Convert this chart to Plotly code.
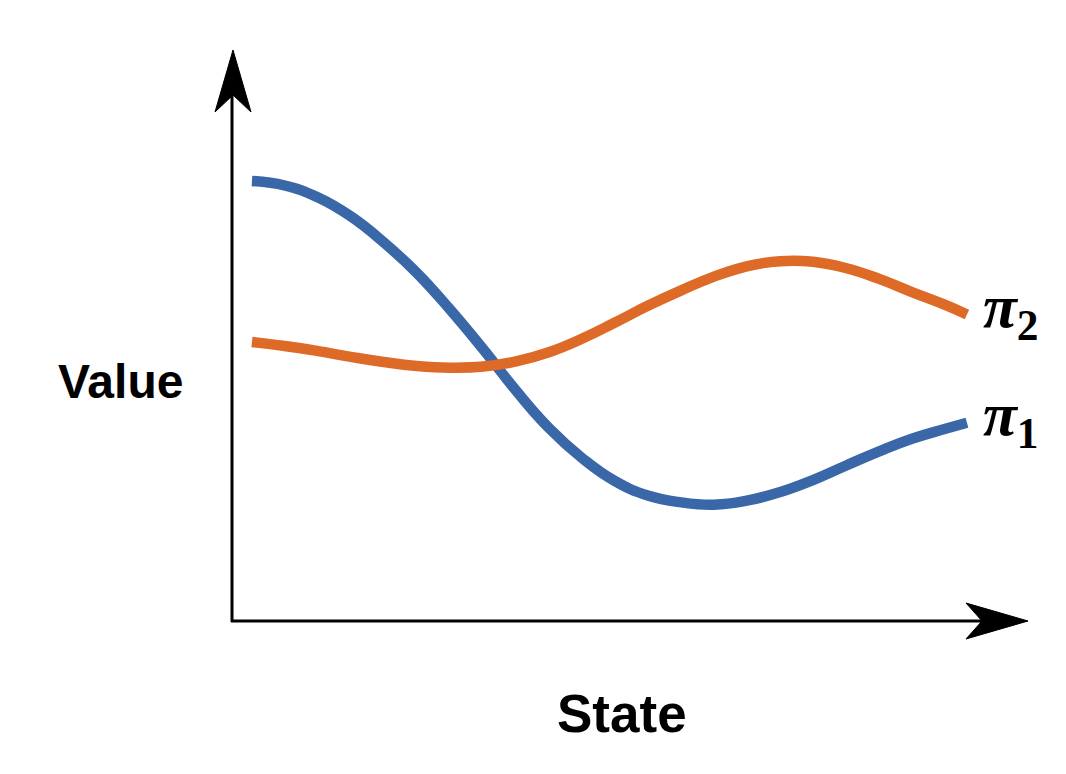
import plotly.graph_objects as go

# Data (state on x, value on y; arbitrary 0-10 units)
state = [0.25, 0.66, 1.08, 1.49, 1.90, 2.32, 2.73, 3.15, 3.56, 3.97, 4.39, 4.80,
         5.21, 5.63, 6.04, 6.45, 6.87, 7.28, 7.69, 8.11, 8.52, 8.93, 9.21]
value_pi1 = [7.68, 7.60, 7.39, 7.06, 6.61, 6.07, 5.44, 4.74, 4.02, 3.37, 2.84, 2.44,
             2.19, 2.07, 2.03, 2.10, 2.25, 2.46, 2.71, 2.96, 3.18, 3.35, 3.46]
value_pi2 = [4.87, 4.80, 4.71, 4.61, 4.52, 4.45, 4.42, 4.44, 4.53, 4.69, 4.93, 5.21,
             5.50, 5.77, 6.01, 6.19, 6.28, 6.27, 6.16, 5.97, 5.74, 5.52, 5.35]

series_labels = ["π", "π"]
series_subs = ["1", "2"]
x_title = "State"
y_title = "Value"

BLUE = "#3a67a7"
ORANGE = "#de6a28"

fig = go.Figure()
fig.add_trace(go.Scatter(x=state, y=value_pi1, mode="lines",
                         line=dict(color=BLUE, width=10.5, shape="spline", smoothing=1.3),
                         showlegend=False, hoverinfo="skip"))
fig.add_trace(go.Scatter(x=state, y=value_pi2, mode="lines",
                         line=dict(color=ORANGE, width=10.5, shape="spline", smoothing=1.3),
                         showlegend=False, hoverinfo="skip"))

OFF = 8  # page body margin
W, H = 1050, 758
L, T = 224, 40
pw, ph = 798, 573
R, B = W - L - pw, H - T - ph

def px(sx):
    return (sx - OFF - L) / pw

def py(sy):
    return (T + ph - (sy - OFF)) / ph

shapes = []
shapes.append(dict(type="line", xref="paper", yref="paper",
                   x0=px(232), y0=py(622), x1=px(232), y1=py(95),
                   line=dict(color="black", width=3)))
shapes.append(dict(type="line", xref="paper", yref="paper",
                   x0=px(231), y0=py(621), x1=px(985), y1=py(621),
                   line=dict(color="black", width=3)))

def path(points):
    return "M " + " L ".join(f"{px(a)},{py(b)}" for a, b in points) + " Z"

shapes.append(dict(type="path", xref="paper", yref="paper",
                   path=path([(233, 50), (251, 112), (233, 95), (215, 112)]),
                   fillcolor="black", line=dict(color="black", width=1)))
shapes.append(dict(type="path", xref="paper", yref="paper",
                   path=path([(1028, 621), (966, 639), (982, 621), (966, 603)]),
                   fillcolor="black", line=dict(color="black", width=1)))

label_font = dict(family="Liberation Serif, Times New Roman, serif", size=62, color="black")
annotations = []
for vals, lab, sub in [(value_pi1, series_labels[0], series_subs[0]),
                       (value_pi2, series_labels[1], series_subs[1])]:
    annotations.append(dict(x=state[-1], y=vals[-1], xref="x", yref="y",
                            text=f"<b><i>{lab}</i><sub>{sub}</sub></b>",
                            showarrow=False, xanchor="left", yanchor="middle",
                            xshift=14, yshift=4, font=label_font))

annotations += [
    dict(x=px(120), y=py(381), xref="paper", yref="paper", text=f"<b>{y_title}</b>",
         showarrow=False, xanchor="center", yanchor="middle",
         font=dict(family="Liberation Sans, Arial, sans-serif", size=48, color="black")),
    dict(x=px(622), y=py(713), xref="paper", yref="paper", text=f"<b>{x_title}</b>",
         showarrow=False, xanchor="center", yanchor="middle",
         font=dict(family="Liberation Sans, Arial, sans-serif", size=53, color="black")),
]

fig.update_layout(
    width=W, height=H,
    margin=dict(l=L, r=R, t=T, b=B),
    paper_bgcolor="white", plot_bgcolor="white",
    xaxis=dict(range=[0, 10], visible=False, fixedrange=True),
    yaxis=dict(range=[0, 10], visible=False, fixedrange=True),
    shapes=shapes, annotations=annotations,
)

fig.write_html("out.html")
